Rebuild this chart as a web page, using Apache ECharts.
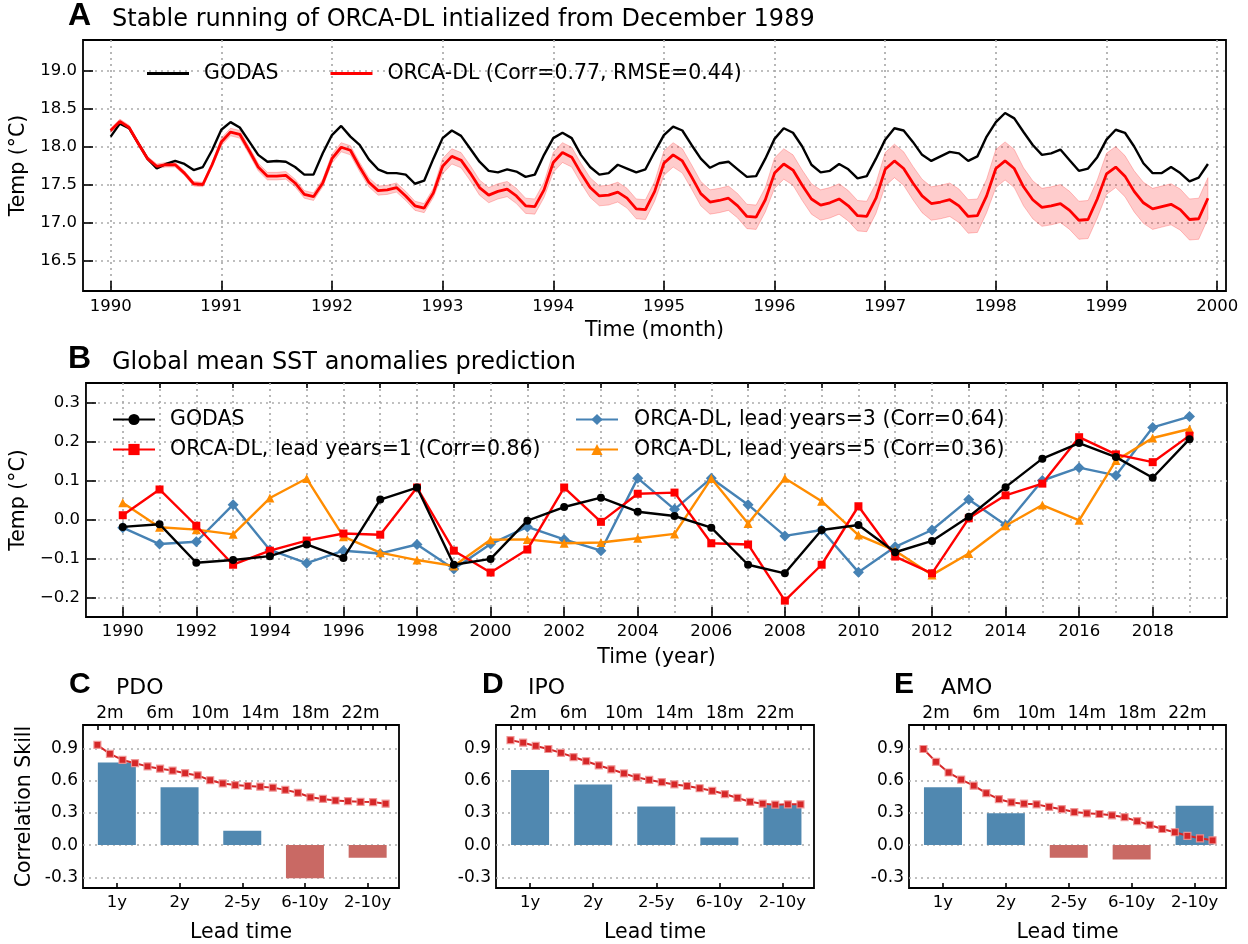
<!DOCTYPE html>
<html>
<head>
<meta charset="utf-8">
<script src="https://cdn.jsdelivr.net/npm/echarts@6/dist/echarts.min.js"></script>
<style>
  html, body { margin: 0; padding: 0; background: #ffffff; }
  #chart { width: 1248px; height: 944px; }
</style>
</head>
<body>
<div id="chart"></div>
<script>
// ---------- Panel A: monthly global mean SST, Jan 1990 - Dec 1999 ----------
const monthlyStartYear = 1990;
const godasMonthly = [
  18.13, 18.30, 18.24, 18.04, 17.84, 17.71, 17.77, 17.81, 17.77, 17.69, 17.73, 17.95,
  18.22, 18.32, 18.25, 18.07, 17.89, 17.80, 17.81, 17.80, 17.73, 17.63, 17.63, 17.91,
  18.15, 18.27, 18.13, 18.02, 17.83, 17.70, 17.65, 17.65, 17.63, 17.51, 17.55, 17.84,
  18.11, 18.21, 18.14, 17.97, 17.80, 17.68, 17.66, 17.70, 17.67, 17.60, 17.63, 17.89,
  18.11, 18.18, 18.11, 17.89, 17.73, 17.63, 17.65, 17.76, 17.71, 17.66, 17.70, 17.93,
  18.15, 18.26, 18.21, 18.02, 17.84, 17.72, 17.78, 17.80, 17.70, 17.60, 17.61, 17.84,
  18.10, 18.24, 18.18, 18.00, 17.76, 17.66, 17.68, 17.77, 17.70, 17.58, 17.61, 17.84,
  18.09, 18.24, 18.21, 18.06, 17.89, 17.81, 17.87, 17.93, 17.91, 17.81, 17.87, 18.13,
  18.32, 18.44, 18.37, 18.19, 18.02, 17.89, 17.91, 17.96, 17.82, 17.68, 17.71, 17.86,
  18.09, 18.22, 18.18, 18.00, 17.78, 17.65, 17.65, 17.73, 17.65, 17.54, 17.59, 17.77
];
const orcaMonthly = [
  18.21, 18.33, 18.25, 18.04, 17.84, 17.74, 17.76, 17.76, 17.65, 17.51, 17.50, 17.76,
  18.06, 18.19, 18.16, 17.95, 17.73, 17.61, 17.61, 17.62, 17.52, 17.37, 17.34, 17.52,
  17.84, 17.99, 17.95, 17.73, 17.53, 17.42, 17.43, 17.46, 17.35, 17.22, 17.19, 17.39,
  17.74, 17.87, 17.82, 17.65, 17.46, 17.36, 17.41, 17.44, 17.35, 17.22, 17.21, 17.43,
  17.79, 17.92, 17.86, 17.65, 17.46, 17.35, 17.36, 17.40, 17.32, 17.18, 17.17, 17.41,
  17.78, 17.89, 17.81, 17.60, 17.38, 17.27, 17.29, 17.32, 17.22, 17.08, 17.07, 17.30,
  17.65, 17.77, 17.69, 17.49, 17.31, 17.23, 17.26, 17.31, 17.22, 17.09, 17.08, 17.32,
  17.70, 17.81, 17.71, 17.52, 17.35, 17.25, 17.27, 17.30, 17.22, 17.08, 17.09, 17.35,
  17.71, 17.81, 17.71, 17.47, 17.30, 17.20, 17.22, 17.25, 17.16, 17.03, 17.04, 17.31,
  17.64, 17.73, 17.61, 17.41, 17.26, 17.18, 17.21, 17.24, 17.17, 17.04, 17.05, 17.32
];
// ensemble half-spread of the ORCA-DL run, one value per year
const orcaSpreadByYear = [0.03, 0.05, 0.06, 0.10, 0.13, 0.16, 0.20, 0.22, 0.25, 0.27];
const panelAYearTicks = [1990, 1991, 1992, 1993, 1994, 1995, 1996, 1997, 1998, 1999, 2000];
const panelATempTicks = [16.5, 17.0, 17.5, 18.0, 18.5, 19.0];

// ---------- Panel B: annual global mean SST anomalies ----------
const annualYears = [1990, 1991, 1992, 1993, 1994, 1995, 1996, 1997, 1998, 1999,
                     2000, 2001, 2002, 2003, 2004, 2005, 2006, 2007, 2008, 2009,
                     2010, 2011, 2012, 2013, 2014, 2015, 2016, 2017, 2018, 2019];
const godasAnnual = [-0.019, -0.012, -0.111, -0.104, -0.094, -0.064, -0.099, 0.051, 0.082, -0.116,
                     -0.101, -0.003, 0.032, 0.056, 0.020, 0.009, -0.021, -0.116, -0.138, -0.027,
                     -0.014, -0.084, -0.055, 0.007, 0.083, 0.156, 0.196, 0.160, 0.107, 0.206];
const leadYear1 = [0.011, 0.077, -0.016, -0.116, -0.080, -0.054, -0.036, -0.039, 0.082, -0.080,
                   -0.136, -0.077, 0.082, -0.006, 0.066, 0.069, -0.061, -0.064, -0.208, -0.116,
                   0.034, -0.095, -0.138, 0.003, 0.062, 0.092, 0.211, 0.167, 0.147, 0.215];
const leadYear3 = [-0.021, -0.063, -0.057, 0.038, -0.078, -0.112, -0.080, -0.087, -0.064, -0.127,
                   -0.063, -0.019, -0.051, -0.080, 0.106, 0.026, 0.106, 0.038, -0.042, -0.027,
                   -0.135, -0.070, -0.027, 0.051, -0.014, 0.100, 0.133, 0.113, 0.236, 0.264];
const leadYear5 = [0.043, -0.020, -0.026, -0.038, 0.055, 0.105, -0.044, -0.085, -0.104, -0.119,
                   -0.052, -0.051, -0.061, -0.059, -0.048, -0.037, 0.105, -0.010, 0.106, 0.047,
                   -0.040, -0.080, -0.142, -0.087, -0.016, 0.037, -0.002, 0.151, 0.209, 0.232];
const panelBMajorYears = [1990, 1992, 1994, 1996, 1998, 2000, 2002, 2004, 2006, 2008, 2010, 2012, 2014, 2016, 2018];
const panelBMinorYears = [1991, 1993, 1995, 1997, 1999, 2001, 2003, 2005, 2007, 2009, 2011, 2013, 2015, 2017, 2019];
const panelBTempTicks = [-0.2, -0.1, 0.0, 0.1, 0.2, 0.3];

// ---------- Panels C-E: correlation skill of climate indices ----------
const leadTimeLabels = ['1y', '2y', '2-5y', '6-10y', '2-10y'];
const leadTimeIndex = [0, 1, 2, 3, 4];
const leadMonths = [1, 2, 3, 4, 5, 6, 7, 8, 9, 10, 11, 12, 13, 14, 15, 16, 17, 18, 19, 20, 21, 22, 23, 24];
const leadMonthLabels = [2, 6, 10, 14, 18, 22];
const skillTicks = [-0.3, 0.0, 0.3, 0.6, 0.9];

const pdoBars = [0.770, 0.539, 0.135, -0.308, -0.117];
const pdoMonthly = [0.934, 0.851, 0.794, 0.764, 0.734, 0.713, 0.695, 0.671, 0.650, 0.605, 0.575, 0.560,
                    0.551, 0.545, 0.536, 0.515, 0.488, 0.446, 0.431, 0.416, 0.410, 0.404, 0.401, 0.386];
const ipoBars = [0.700, 0.566, 0.359, 0.072, 0.374];
const ipoMonthly = [0.979, 0.955, 0.925, 0.896, 0.860, 0.821, 0.782, 0.743, 0.707, 0.668, 0.632, 0.608,
                    0.587, 0.566, 0.551, 0.530, 0.506, 0.476, 0.440, 0.404, 0.386, 0.377, 0.380, 0.380];
const amoBars = [0.539, 0.296, -0.117, -0.135, 0.368];
const amoMonthly = [0.896, 0.776, 0.677, 0.611, 0.554, 0.485, 0.428, 0.398, 0.386, 0.380, 0.356, 0.335,
                    0.308, 0.296, 0.290, 0.278, 0.260, 0.224, 0.188, 0.150, 0.120, 0.087, 0.063, 0.045];

// ---------- styling ----------
const FONT = 'DejaVu Sans';
const TICK_FONT = 16.5;
const gridDots = { show: true, lineStyle: { type: [2, 4], color: '#ababab', width: 1.7 } };
const noLine = { show: false, onZero: false };
const tickIn = (vals, len) => ({ show: true, inside: true, length: len, customValues: vals,
  lineStyle: { color: '#000', width: 1.6 } });
const labelStyle = (vals, fmt, margin) => ({ customValues: vals, formatter: fmt, color: '#000',
  fontFamily: FONT, fontSize: TICK_FONT, margin: margin });
const nameStyle = { color: '#000', fontFamily: FONT, fontSize: 20.5 };
const fixMinus = v => { const s = Number(v).toFixed(1); return s.replace('-', '\u2212'); };
const fixHyphen = v => Number(v).toFixed(1);

const chart = echarts.init(document.getElementById('chart'), null, { renderer: 'canvas' });

// panel A point arrays
const monthX = i => monthlyStartYear + i / 12;
const godasPts = godasMonthly.map((v, i) => [monthX(i), v]);
const orcaPts = orcaMonthly.map((v, i) => [monthX(i), v]);
const spreadBand = orcaMonthly.map((v, i) => {
  const s = orcaSpreadByYear[Math.floor(i / 12)];
  return [monthX(i), v - s, v + s];
});

const grids = [
  { left: 83, top: 40, width: 1143, height: 251 },
  { left: 84, top: 383, width: 1143, height: 234 },
  { left: 83, top: 725, width: 316, height: 168 },
  { left: 496, top: 725, width: 318, height: 168 },
  { left: 909, top: 725, width: 317, height: 168 }
].map(g => Object.assign({ show: true, borderColor: '#000', borderWidth: 1.8, backgroundColor: 'transparent' }, g));

const xAxes = [
  // 0: panel A years
  { gridIndex: 0, type: 'value', min: 1989.75, max: 2000.08,
    axisLine: noLine, axisTick: tickIn(panelAYearTicks, 10),
    axisLabel: labelStyle(panelAYearTicks, v => String(Math.round(v)), 7),
    splitLine: gridDots,
    name: 'Time (month)', nameLocation: 'middle', nameGap: 29, nameTextStyle: nameStyle },
  // 1: panel B labelled (even) years
  { gridIndex: 1, type: 'value', min: 1989, max: 2020.02,
    axisLine: noLine, axisTick: tickIn(panelBMajorYears, 10),
    axisLabel: labelStyle(panelBMajorYears, v => String(Math.round(v)), 6),
    splitLine: gridDots,
    name: 'Time (year)', nameLocation: 'middle', nameGap: 30, nameTextStyle: nameStyle },
  // 2: panel B odd years (short ticks only)
  { gridIndex: 1, type: 'value', min: 1989, max: 2020.02,
    axisLine: noLine, axisTick: tickIn(panelBMinorYears, 5),
    axisLabel: { show: false, customValues: panelBMinorYears },
    splitLine: gridDots }
];
for (let p = 0; p < 3; p++) {
  xAxes.push({ gridIndex: 2 + p, type: 'value', min: -0.54, max: 4.5,
    axisLine: noLine, axisTick: tickIn(leadTimeIndex, 5),
    axisLabel: labelStyle(leadTimeIndex, v => leadTimeLabels[Math.round(v)], 6),
    splitLine: { show: false },
    name: 'Lead time', nameLocation: 'middle', nameGap: 34, nameTextStyle: nameStyle });
}
for (let p = 0; p < 3; p++) {
  xAxes.push({ gridIndex: 2 + p, type: 'value', position: 'top', min: -0.15, max: 25.07,
    axisLine: noLine, axisTick: tickIn(leadMonths, 5),
    axisLabel: Object.assign(labelStyle(leadMonthLabels, v => Math.round(v) + 'm', 3), { fontSize: 17 }),
    splitLine: { show: false } });
}

const yAxes = [
  { gridIndex: 0, type: 'value', min: 16.1, max: 19.4,
    axisLine: noLine, axisTick: tickIn(panelATempTicks, 10),
    axisLabel: labelStyle(panelATempTicks, fixMinus, 6),
    splitLine: gridDots,
    name: 'Temp (°C)', nameLocation: 'middle', nameGap: 48, nameRotate: 90, nameTextStyle: nameStyle },
  { gridIndex: 1, type: 'value', min: -0.25, max: 0.35,
    axisLine: noLine, axisTick: tickIn(panelBTempTicks, 10),
    axisLabel: labelStyle(panelBTempTicks, fixMinus, 6),
    splitLine: gridDots,
    name: 'Temp (°C)', nameLocation: 'middle', nameGap: 48, nameRotate: 90, nameTextStyle: nameStyle }
];
for (let p = 0; p < 3; p++) {
  yAxes.push({ gridIndex: 2 + p, type: 'value', min: -0.4, max: 1.12,
    axisLine: noLine, axisTick: { show: false, customValues: skillTicks },
    axisLabel: Object.assign(labelStyle(skillTicks, fixHyphen, 5), { fontSize: 17 }),
    splitLine: gridDots,
    name: p === 0 ? 'Correlation Skill' : '', nameLocation: 'middle', nameGap: 48, nameRotate: 90,
    nameTextStyle: nameStyle });
}

const series = [
  { name: 'spread', type: 'custom', xAxisIndex: 0, yAxisIndex: 0, data: spreadBand,
    encode: { x: 0, y: [1, 2] }, silent: true, z: 1,
    renderItem: (params, api) => {
      if (params.dataIndex !== 0) return null;
      const upper = spreadBand.map(d => api.coord([d[0], d[2]]));
      const lower = spreadBand.map(d => api.coord([d[0], d[1]])).reverse();
      return { type: 'polygon', shape: { points: upper.concat(lower) },
        style: { fill: 'rgba(255,0,0,0.2)', stroke: 'rgba(255,0,0,0.22)', lineWidth: 1 } };
    } },
  { name: 'GODAS', type: 'line', xAxisIndex: 0, yAxisIndex: 0, data: godasPts, symbol: 'none',
    color: '#000', lineStyle: { color: '#000', width: 2.4 }, z: 3 },
  { name: 'ORCA-DL (Corr=0.77, RMSE=0.44)', type: 'line', xAxisIndex: 0, yAxisIndex: 0, data: orcaPts,
    symbol: 'none', color: '#ff0000', lineStyle: { color: '#ff0000', width: 2.8 }, z: 4 }
];

const annualSeries = [
  { name: 'GODAS ', values: godasAnnual, color: '#000000', symbol: 'circle', size: 8, z: 8 },
  { name: 'ORCA-DL, lead years=1 (Corr=0.86)', values: leadYear1, color: '#ff0000', symbol: 'rect', size: 8, z: 7 },
  { name: 'ORCA-DL, lead years=3 (Corr=0.64)', values: leadYear3, color: '#4682b4', symbol: 'diamond', size: 11, z: 5 },
  { name: 'ORCA-DL, lead years=5 (Corr=0.36)', values: leadYear5, color: '#ff8c00', symbol: 'triangle', size: 9, z: 6 }
];
annualSeries.forEach(s => {
  series.push({ name: s.name, type: 'line', xAxisIndex: 1, yAxisIndex: 1,
    data: annualYears.map((y, i) => [y, s.values[i]]),
    symbol: s.symbol, symbolSize: s.size, showSymbol: true, color: s.color,
    itemStyle: { color: s.color }, lineStyle: { color: s.color, width: 2.4 }, z: s.z });
});

const skillPanels = [
  { bars: pdoBars, monthly: pdoMonthly },
  { bars: ipoBars, monthly: ipoMonthly },
  { bars: amoBars, monthly: amoMonthly }
];
skillPanels.forEach((p, k) => {
  series.push({ type: 'bar', xAxisIndex: 3 + k, yAxisIndex: 2 + k, barWidth: 38,
    data: leadTimeIndex.map(i => ({ value: [i, p.bars[i]],
      itemStyle: { color: p.bars[i] >= 0 ? '#5088b0' : '#c96964' } })), z: 2 });
  series.push({ type: 'line', xAxisIndex: 6 + k, yAxisIndex: 2 + k,
    data: leadMonths.map((m, i) => [m, p.monthly[i]]),
    symbol: 'rect', symbolSize: 7, showSymbol: true, color: '#d62728',
    itemStyle: { color: '#d62728', borderColor: 'rgba(240,150,150,0.9)', borderWidth: 1.2 },
    lineStyle: { color: '#d62728', width: 2 }, z: 4 });
});

const titleText = (text, left, top, size, bold) => ({ text, left, top, padding: 0,
  textStyle: { fontFamily: bold ? 'Liberation Sans' : FONT, fontSize: size,
    fontWeight: bold ? 'bold' : 'normal', color: '#000' } });

const legendText = { color: '#000', fontFamily: FONT, fontSize: 20.5 };

chart.setOption({
  animation: false,
  backgroundColor: '#ffffff',
  textStyle: { fontFamily: FONT },
  title: [
    titleText('A', 68, 0, 32, true),
    titleText('Stable running of ORCA-DL intialized from December 1989', 112, 8, 24, false),
    titleText('B', 68, 343, 32, true),
    titleText('Global mean SST anomalies prediction', 112, 351, 24, false),
    titleText('C', 69, 670, 30, true),
    titleText('PDO', 116, 677, 22, false),
    titleText('D', 482, 670, 30, true),
    titleText('IPO', 528, 677, 22, false),
    titleText('E', 894, 670, 30, true),
    titleText('AMO', 941, 677, 22, false)
  ],
  legend: [
    { data: ['GODAS', 'ORCA-DL (Corr=0.77, RMSE=0.44)'], left: 142, top: 58, orient: 'horizontal',
      icon: 'rect', itemWidth: 42, itemHeight: 3, itemGap: 52,
      textStyle: Object.assign({ padding: [0, 0, 0, 10] }, legendText) },
    { data: ['GODAS ', 'ORCA-DL, lead years=1 (Corr=0.86)'], left: 107, top: 404, orient: 'vertical',
      itemWidth: 42, itemHeight: 14, itemGap: 9, textStyle: Object.assign({ padding: [0, 0, 0, 10] }, legendText) },
    { data: ['ORCA-DL, lead years=3 (Corr=0.64)', 'ORCA-DL, lead years=5 (Corr=0.36)'], left: 570, top: 404,
      orient: 'vertical', itemWidth: 42, itemHeight: 14, itemGap: 9,
      textStyle: Object.assign({ padding: [0, 0, 0, 11] }, legendText) }
  ],
  grid: grids,
  xAxis: xAxes,
  yAxis: yAxes,
  series: series
});
</script>
</body>
</html>
